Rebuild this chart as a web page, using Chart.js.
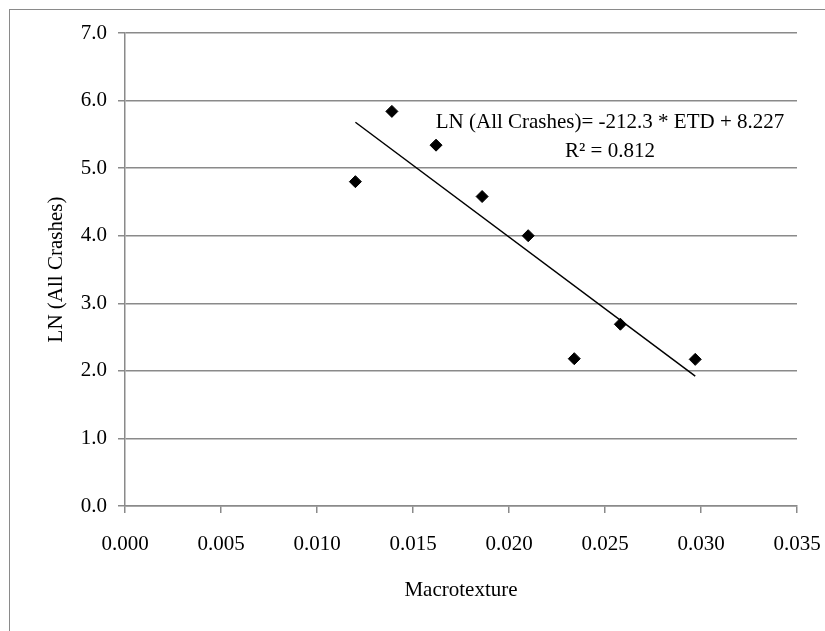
<!DOCTYPE html>
<html>
<head>
<meta charset="utf-8">
<script src="https://cdn.jsdelivr.net/npm/chart.js@4/dist/chart.umd.min.js"></script>
<style>
  html, body { margin: 0; padding: 0; background: #fff; }
  canvas { display: block; }
</style>
</head>
<body>
<canvas id="crashChart" width="825" height="631"></canvas>
<script>
// Macrotexture vs LN(All Crashes) - scatter with linear trend
const macrotexture = [0.0120, 0.0139, 0.0162, 0.0186, 0.0210, 0.0234, 0.0258, 0.0297];
const lnCrashes = [4.80, 5.84, 5.34, 4.58, 4.00, 2.18, 2.69, 2.17];
const trendSlope = -212.3;
const trendIntercept = 8.227;
const xTicks = [0.000, 0.005, 0.010, 0.015, 0.020, 0.025, 0.030, 0.035];
const yTicks = [0, 1, 2, 3, 4, 5, 6, 7];
const equationLines = ['LN (All Crashes)= -212.3 * ETD + 8.227', 'R\u00B2 = 0.812'];

(function() {
  'use strict';

  const GRAY = '#8a8a8a';
  const FONT = '"Liberation Serif", "Times New Roman", serif';

  Chart.defaults.font.family = FONT;
  Chart.defaults.font.size = 21;
  Chart.defaults.color = '#000';

  const points = macrotexture.map((x, i) => ({ x: x, y: lnCrashes[i] }));
  const xMin = Math.min(...macrotexture);
  const xMax = Math.max(...macrotexture);
  const trend = [xMin, xMax].map(x => ({ x: x, y: trendSlope * x + trendIntercept }));

  // gray frame round the chart (runs off the right and bottom edges)
  const framePlugin = {
    id: 'frame',
    beforeDraw(chart) {
      const ctx = chart.ctx;
      ctx.save();
      ctx.fillStyle = '#fff';
      ctx.fillRect(0, 0, chart.width, chart.height);
      ctx.strokeStyle = GRAY;
      ctx.lineWidth = 1;
      ctx.strokeRect(9.5, 9.5, chart.width + 20, chart.height + 20);
      ctx.restore();
    }
  };

  // trendline equation label
  const equationPlugin = {
    id: 'equation',
    afterDatasetsDraw(chart) {
      const ctx = chart.ctx;
      ctx.save();
      ctx.font = '21px ' + FONT;
      ctx.fillStyle = '#000';
      ctx.textAlign = 'center';
      ctx.textBaseline = 'alphabetic';
      ctx.fillText(equationLines[0], 610, 128);
      ctx.fillText(equationLines[1], 610, 157);
      ctx.restore();
    }
  };

  new Chart(document.getElementById('crashChart'), {
    type: 'scatter',
    data: {
      datasets: [
        {
          label: 'LN (All Crashes)',
          data: points,
          pointStyle: 'rectRot',
          pointRadius: 6,
          pointBackgroundColor: '#000',
          pointBorderColor: '#000',
          pointBorderWidth: 1,
          showLine: false
        },
        {
          label: 'Linear',
          data: trend,
          showLine: true,
          borderColor: '#000',
          borderWidth: 1.5,
          pointRadius: 0,
          fill: false
        }
      ]
    },
    options: {
      responsive: false,
      animation: false,
      devicePixelRatio: 1,
      layout: { padding: { top: 33, right: 28, bottom: 0, left: 0 } },
      plugins: {
        legend: { display: false },
        tooltip: { enabled: false }
      },
      scales: {
        x: {
          type: 'linear',
          min: 0,
          max: 0.035,
          afterBuildTicks: scale => { scale.ticks = xTicks.map(v => ({ value: v })); },
          afterFit: scale => {
            scale.height = 125;
            scale.paddingLeft = 0;
            scale.paddingRight = 0;
          },
          ticks: {
            padding: 19,
            maxRotation: 0,
            callback: v => v.toFixed(3)
          },
          grid: {
            drawOnChartArea: false,
            drawTicks: true,
            tickLength: 7,
            color: GRAY,
            lineWidth: 1.5
          },
          border: { display: true, color: GRAY, width: 1.5 },
          title: {
            display: true,
            text: 'Macrotexture',
            padding: { top: 0, bottom: 28 }
          }
        },
        y: {
          type: 'linear',
          min: 0,
          max: 7,
          afterBuildTicks: scale => { scale.ticks = yTicks.map(v => ({ value: v })); },
          afterFit: scale => { scale.width = 125; },
          ticks: {
            padding: 11,
            callback: v => v.toFixed(1)
          },
          grid: {
            color: GRAY,
            lineWidth: 1.5,
            tickLength: 7
          },
          border: { display: true, color: GRAY, width: 1.5 },
          title: {
            display: true,
            text: 'LN (All Crashes)',
            padding: { top: 44, bottom: 0 }
          }
        }
      }
    },
    plugins: [framePlugin, equationPlugin]
  });
})();
</script>
</body>
</html>
